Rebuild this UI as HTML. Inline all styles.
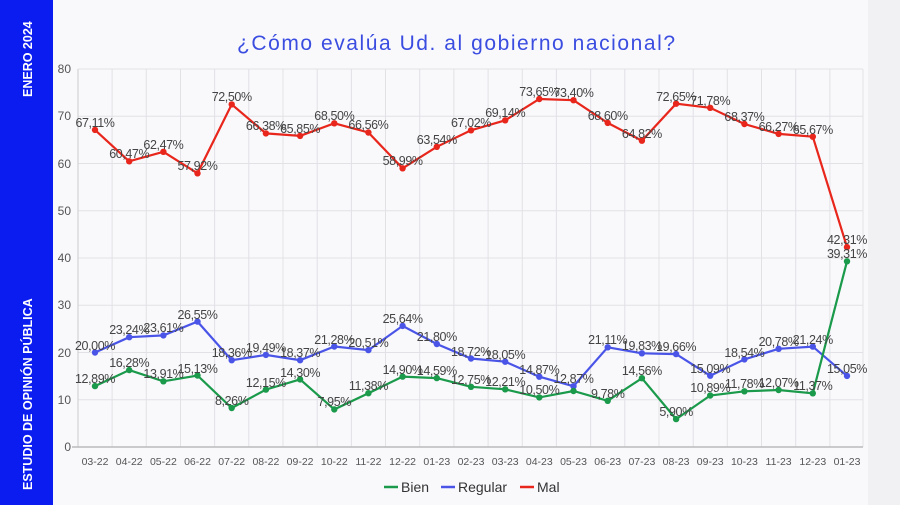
<!DOCTYPE html>
<html><head><meta charset="utf-8"><style>
html,body{margin:0;padding:0;width:900px;height:505px;overflow:hidden;background:#f9f9fc;font-family:"Liberation Sans",sans-serif}
</style></head><body>
<svg width="900" height="505" viewBox="0 0 900 505" xmlns="http://www.w3.org/2000/svg" font-family="Liberation Sans, sans-serif">
<rect x="0" y="0" width="900" height="505" fill="#f9f9fc"/>
<rect x="868" y="0" width="32" height="505" fill="#f1f1f4"/>
<rect x="0" y="0" width="53" height="505" fill="#0a1cf0"/>
<text transform="translate(32,97) rotate(-90)" fill="#fff" font-size="12.5" font-weight="bold">ENERO 2024</text>
<text transform="translate(32,490) rotate(-90)" fill="#fff" font-size="12.5" font-weight="bold">ESTUDIO DE OPINIÓN PÚBLICA</text>
<text x="237" y="50" fill="#3b4de0" font-size="21" textLength="438" lengthAdjust="spacing">¿Cómo evalúa Ud. al gobierno nacional?</text>
<g stroke="#e2e2e6" stroke-width="1">
<line x1="78" y1="69" x2="863" y2="69"/><line x1="78" y1="116.3" x2="863" y2="116.3"/><line x1="78" y1="163.5" x2="863" y2="163.5"/><line x1="78" y1="210.8" x2="863" y2="210.8"/><line x1="78" y1="258" x2="863" y2="258"/><line x1="78" y1="305.3" x2="863" y2="305.3"/><line x1="78" y1="352.5" x2="863" y2="352.5"/><line x1="78" y1="399.8" x2="863" y2="399.8"/>
<line x1="112.1" y1="69" x2="112.1" y2="447"/><line x1="146.3" y1="69" x2="146.3" y2="447"/><line x1="180.5" y1="69" x2="180.5" y2="447"/><line x1="214.6" y1="69" x2="214.6" y2="447"/><line x1="248.8" y1="69" x2="248.8" y2="447"/><line x1="283" y1="69" x2="283" y2="447"/><line x1="317.2" y1="69" x2="317.2" y2="447"/><line x1="351.4" y1="69" x2="351.4" y2="447"/><line x1="385.5" y1="69" x2="385.5" y2="447"/><line x1="419.7" y1="69" x2="419.7" y2="447"/><line x1="453.9" y1="69" x2="453.9" y2="447"/><line x1="488.1" y1="69" x2="488.1" y2="447"/><line x1="522.3" y1="69" x2="522.3" y2="447"/><line x1="556.4" y1="69" x2="556.4" y2="447"/><line x1="590.6" y1="69" x2="590.6" y2="447"/><line x1="624.8" y1="69" x2="624.8" y2="447"/><line x1="659" y1="69" x2="659" y2="447"/><line x1="693.2" y1="69" x2="693.2" y2="447"/><line x1="727.3" y1="69" x2="727.3" y2="447"/><line x1="761.5" y1="69" x2="761.5" y2="447"/><line x1="795.7" y1="69" x2="795.7" y2="447"/><line x1="829.9" y1="69" x2="829.9" y2="447"/><line x1="863" y1="69" x2="863" y2="447"/>
</g>
<line x1="78" y1="69" x2="78" y2="447" stroke="#ccc"/>
<line x1="72" y1="447" x2="863" y2="447" stroke="#bbb" stroke-width="1.5"/>
<g fill="#555" font-size="12" text-anchor="end">
<text x="71" y="73">80</text><text x="71" y="120">70</text><text x="71" y="168">60</text><text x="71" y="215">50</text><text x="71" y="262">40</text><text x="71" y="309">30</text><text x="71" y="357">20</text><text x="71" y="404">10</text><text x="71" y="451">0</text>
</g>
<g fill="#555" font-size="10.5" text-anchor="middle">
<text x="95" y="465">03-22</text><text x="129.2" y="465">04-22</text><text x="163.4" y="465">05-22</text><text x="197.5" y="465">06-22</text><text x="231.7" y="465">07-22</text><text x="265.9" y="465">08-22</text><text x="300.1" y="465">09-22</text><text x="334.3" y="465">10-22</text><text x="368.4" y="465">11-22</text><text x="402.6" y="465">12-22</text><text x="436.8" y="465">01-23</text><text x="471" y="465">02-23</text><text x="505.2" y="465">03-23</text><text x="539.3" y="465">04-23</text><text x="573.5" y="465">05-23</text><text x="607.7" y="465">06-23</text><text x="641.9" y="465">07-23</text><text x="676.1" y="465">08-23</text><text x="710.2" y="465">09-23</text><text x="744.4" y="465">10-23</text><text x="778.6" y="465">11-23</text><text x="812.8" y="465">12-23</text><text x="847" y="465">01-23</text>
</g>
<polyline fill="none" stroke="#e8261c" stroke-width="2.2" points="95,129.9 129.2,161.3 163.4,151.8 197.5,173.3 231.7,104.4 265.9,133.4 300.1,135.9 334.3,123.3 368.4,132.5 402.6,168.3 436.8,146.8 471,130.3 505.2,120.3 539.3,99 573.5,100.2 607.7,122.9 641.9,140.7 676.1,103.7 710.2,107.8 744.4,124 778.6,133.9 812.8,136.7 847,247.1"/>
<polyline fill="none" stroke="#4a55e8" stroke-width="2.2" points="95,352.5 129.2,337.2 163.4,335.4 197.5,321.6 231.7,360.2 265.9,354.9 300.1,360.2 334.3,346.5 368.4,350.1 402.6,325.9 436.8,344 471,358.5 505.2,361.7 539.3,376.7 573.5,386.2 607.7,347.3 641.9,353.3 676.1,354.1 710.2,375.7 744.4,359.4 778.6,348.8 812.8,346.6 847,375.9"/>
<polyline fill="none" stroke="#1a9a4a" stroke-width="2.2" points="95,386.1 129.2,370.1 163.4,381.3 197.5,375.5 231.7,408 265.9,389.6 300.1,379.4 334.3,409.4 368.4,393.2 402.6,376.6 436.8,378.1 471,386.8 505.2,389.3 539.3,397.4 573.5,391 607.7,400.8 641.9,378.2 676.1,419.1 710.2,395.5 744.4,391.3 778.6,390 812.8,393.3 847,261.3"/>
<g fill="#e8261c">
<circle cx="95" cy="129.9" r="3.2"/><circle cx="129.2" cy="161.3" r="3.2"/><circle cx="163.4" cy="151.8" r="3.2"/><circle cx="197.5" cy="173.3" r="3.2"/><circle cx="231.7" cy="104.4" r="3.2"/><circle cx="265.9" cy="133.4" r="3.2"/><circle cx="300.1" cy="135.9" r="3.2"/><circle cx="334.3" cy="123.3" r="3.2"/><circle cx="368.4" cy="132.5" r="3.2"/><circle cx="402.6" cy="168.3" r="3.2"/><circle cx="436.8" cy="146.8" r="3.2"/><circle cx="471" cy="130.3" r="3.2"/><circle cx="505.2" cy="120.3" r="3.2"/><circle cx="539.3" cy="99" r="3.2"/><circle cx="573.5" cy="100.2" r="3.2"/><circle cx="607.7" cy="122.9" r="3.2"/><circle cx="641.9" cy="140.7" r="3.2"/><circle cx="676.1" cy="103.7" r="3.2"/><circle cx="710.2" cy="107.8" r="3.2"/><circle cx="744.4" cy="124" r="3.2"/><circle cx="778.6" cy="133.9" r="3.2"/><circle cx="812.8" cy="136.7" r="3.2"/><circle cx="847" cy="247.1" r="3.2"/>
</g>
<g fill="#4a55e8">
<circle cx="95" cy="352.5" r="3.2"/><circle cx="129.2" cy="337.2" r="3.2"/><circle cx="163.4" cy="335.4" r="3.2"/><circle cx="197.5" cy="321.6" r="3.2"/><circle cx="231.7" cy="360.2" r="3.2"/><circle cx="265.9" cy="354.9" r="3.2"/><circle cx="300.1" cy="360.2" r="3.2"/><circle cx="334.3" cy="346.5" r="3.2"/><circle cx="368.4" cy="350.1" r="3.2"/><circle cx="402.6" cy="325.9" r="3.2"/><circle cx="436.8" cy="344" r="3.2"/><circle cx="471" cy="358.5" r="3.2"/><circle cx="505.2" cy="361.7" r="3.2"/><circle cx="539.3" cy="376.7" r="3.2"/><circle cx="573.5" cy="386.2" r="3.2"/><circle cx="607.7" cy="347.3" r="3.2"/><circle cx="641.9" cy="353.3" r="3.2"/><circle cx="676.1" cy="354.1" r="3.2"/><circle cx="710.2" cy="375.7" r="3.2"/><circle cx="744.4" cy="359.4" r="3.2"/><circle cx="778.6" cy="348.8" r="3.2"/><circle cx="812.8" cy="346.6" r="3.2"/><circle cx="847" cy="375.9" r="3.2"/>
</g>
<g fill="#1a9a4a">
<circle cx="95" cy="386.1" r="3.2"/><circle cx="129.2" cy="370.1" r="3.2"/><circle cx="163.4" cy="381.3" r="3.2"/><circle cx="197.5" cy="375.5" r="3.2"/><circle cx="231.7" cy="408" r="3.2"/><circle cx="265.9" cy="389.6" r="3.2"/><circle cx="300.1" cy="379.4" r="3.2"/><circle cx="334.3" cy="409.4" r="3.2"/><circle cx="368.4" cy="393.2" r="3.2"/><circle cx="402.6" cy="376.6" r="3.2"/><circle cx="436.8" cy="378.1" r="3.2"/><circle cx="471" cy="386.8" r="3.2"/><circle cx="505.2" cy="389.3" r="3.2"/><circle cx="539.3" cy="397.4" r="3.2"/><circle cx="573.5" cy="391" r="3.2"/><circle cx="607.7" cy="400.8" r="3.2"/><circle cx="641.9" cy="378.2" r="3.2"/><circle cx="676.1" cy="419.1" r="3.2"/><circle cx="710.2" cy="395.5" r="3.2"/><circle cx="744.4" cy="391.3" r="3.2"/><circle cx="778.6" cy="390" r="3.2"/><circle cx="812.8" cy="393.3" r="3.2"/><circle cx="847" cy="261.3" r="3.2"/>
</g>
<g fill="#444" font-size="12.5" text-anchor="middle" letter-spacing="-0.4">
<text x="95" y="127">67,11%</text><text x="129.2" y="158">60,47%</text><text x="163.4" y="149">62,47%</text><text x="197.5" y="170">57,92%</text><text x="231.7" y="101">72,50%</text><text x="265.9" y="130">66,38%</text><text x="300.1" y="133">65,85%</text><text x="334.3" y="120">68,50%</text><text x="368.4" y="129">66,56%</text><text x="402.6" y="165">58,99%</text><text x="436.8" y="144">63,54%</text><text x="471" y="127">67,02%</text><text x="505.2" y="117">69,14%</text><text x="539.3" y="96">73,65%</text><text x="573.5" y="97">73,40%</text><text x="607.7" y="120">68,60%</text><text x="641.9" y="138">64,82%</text><text x="676.1" y="101">72,65%</text><text x="710.2" y="105">71,78%</text><text x="744.4" y="121">68,37%</text><text x="778.6" y="131">66,27%</text><text x="812.8" y="134">65,67%</text><text x="847" y="244">42,31%</text>
<text x="95" y="350">20,00%</text><text x="129.2" y="334">23,24%</text><text x="163.4" y="332">23,61%</text><text x="197.5" y="319">26,55%</text><text x="231.7" y="357">18,36%</text><text x="265.9" y="352">19,49%</text><text x="300.1" y="357">18,37%</text><text x="334.3" y="344">21,28%</text><text x="368.4" y="347">20,51%</text><text x="402.6" y="323">25,64%</text><text x="436.8" y="341">21,80%</text><text x="471" y="356">18,72%</text><text x="505.2" y="359">18,05%</text><text x="539.3" y="374">14,87%</text><text x="573.5" y="383">12,87%</text><text x="607.7" y="344">21,11%</text><text x="641.9" y="350">19,83%</text><text x="676.1" y="351">19,66%</text><text x="710.2" y="373">15,09%</text><text x="744.4" y="357">18,54%</text><text x="778.6" y="346">20,78%</text><text x="812.8" y="344">21,24%</text><text x="847" y="373">15,05%</text>
<text x="95" y="383">12,89%</text><text x="129.2" y="367">16,28%</text><text x="163.4" y="378">13,91%</text><text x="197.5" y="373">15,13%</text><text x="231.7" y="405">8,26%</text><text x="265.9" y="387">12,15%</text><text x="300.1" y="377">14,30%</text><text x="334.3" y="406">7,95%</text><text x="368.4" y="390">11,38%</text><text x="402.6" y="374">14,90%</text><text x="436.8" y="375">14,59%</text><text x="471" y="384">12,75%</text><text x="505.2" y="386">12,21%</text><text x="539.3" y="394">10,50%</text><text x="607.7" y="398">9,78%</text><text x="641.9" y="375">14,56%</text><text x="676.1" y="416">5,90%</text><text x="710.2" y="392">10,89%</text><text x="744.4" y="388">11,78%</text><text x="778.6" y="387">12,07%</text><text x="812.8" y="390">11,37%</text><text x="847" y="258">39,31%</text>
</g>
<g font-size="14" fill="#333">
<line x1="384" y1="487" x2="398" y2="487" stroke="#1a9a4a" stroke-width="2.5"/><text x="401" y="492">Bien</text>
<line x1="441" y1="487" x2="455" y2="487" stroke="#4a55e8" stroke-width="2.5"/><text x="458" y="492">Regular</text>
<line x1="520" y1="487" x2="534" y2="487" stroke="#e8261c" stroke-width="2.5"/><text x="537" y="492">Mal</text>
</g>
</svg>
</body></html>
